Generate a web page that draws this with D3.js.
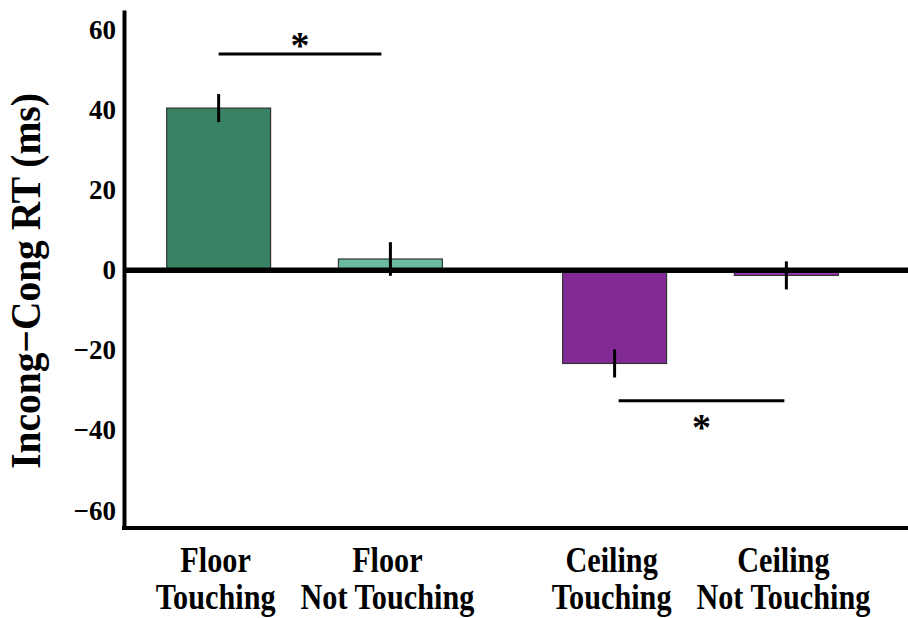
<!DOCTYPE html>
<html>
<head>
<meta charset="utf-8">
<script src="https://cdn.jsdelivr.net/npm/d3@7"></script>
<style>
  body { margin: 0; background: #fff; }
  text { font-family: 'Liberation Serif', 'Times New Roman', serif; font-weight: bold; }
</style>
</head>
<body>
<div id="chart"></div>
<script>
// data
const groups = ['Floor', 'Ceiling'];
const conditions = ['Touching', 'Not Touching'];
const labels = ['Floor Touching', 'Floor Not Touching', 'Ceiling Touching', 'Ceiling Not Touching'];
const means = [40.5, 2.8, -23.3, -1.3];
const errors = [3.5, 4.2, 3.5, 3.5];
const yTicks = [60, 40, 20, 0, -20, -40, -60];
const sigFrom = ['Floor Touching', 'Ceiling Touching'];
const sigTo = ['Floor Not Touching', 'Ceiling Not Touching'];
const sigLevel = [54, -32.6];
const sigMark = ['*', '*'];

const colors = ['#3a8264', '#6bbb9d', '#822a96', '#9c35b4'];

const data = labels.map((label, i) => ({
  label,
  group: groups[Math.floor(i / 2)],
  cond: conditions[i % 2],
  mean: means[i],
  err: errors[i],
  color: colors[i]
}));

const width = 908;
const height = 618;
const axisX = 124;

const svg = d3
  .select('#chart')
  .append('svg')
  .attr('width', width)
  .attr('height', height);

const yScale = d3.scaleLinear().domain([-64.4, 65]).range([528, 10]);

const x0 = d3
  .scaleBand()
  .domain(groups)
  .range([149.5, 855.5])
  .paddingInner(0.217)
  .paddingOuter(0);

const x1 = d3
  .scaleBand()
  .domain(conditions)
  .range([0, x0.bandwidth()])
  .paddingInner(0.395)
  .paddingOuter(0.1);

const barX = (d) => x0(d.group) + x1(d.cond);
const barCenter = (d) => barX(d) + x1.bandwidth() / 2;
const byLabel = (l) => data.find((d) => d.label === l);

// bars
svg
  .selectAll('.bar')
  .data(data)
  .enter()
  .append('rect')
  .attr('class', 'bar')
  .attr('x', barX)
  .attr('y', (d) => Math.min(yScale(d.mean), yScale(0)))
  .attr('width', x1.bandwidth())
  .attr('height', (d) => Math.abs(yScale(d.mean) - yScale(0)))
  .style('fill', (d) => d.color)
  .style('stroke', '#333')
  .style('stroke-width', 1.2);

// error bars
svg
  .selectAll('.err')
  .data(data)
  .enter()
  .append('line')
  .attr('class', 'err')
  .attr('x1', barCenter)
  .attr('x2', barCenter)
  .attr('y1', (d) => yScale(d.mean + d.err))
  .attr('y2', (d) => yScale(d.mean - d.err))
  .style('stroke', 'black')
  .style('stroke-width', 3);

// zero line and bottom line
svg
  .append('line')
  .attr('x1', axisX)
  .attr('x2', width)
  .attr('y1', yScale(0))
  .attr('y2', yScale(0))
  .style('stroke', 'black')
  .style('stroke-width', 5.5);

svg
  .append('line')
  .attr('x1', axisX - 2)
  .attr('x2', width)
  .attr('y1', yScale.range()[0])
  .attr('y2', yScale.range()[0])
  .style('stroke', 'black')
  .style('stroke-width', 4);

// y axis
const yAxis = svg
  .append('g')
  .attr('class', 'y-axis')
  .attr('transform', `translate(${axisX},0)`)
  .call(d3.axisLeft(yScale).tickValues(yTicks).tickSize(0).tickSizeOuter(0).tickPadding(8).tickFormat(d3.format('d')));

yAxis.select('.domain').style('stroke', 'black').style('stroke-width', 4);
yAxis
  .selectAll('.tick text')
  .style('font-size', '27px')
  .style('font-family', "'Liberation Serif', serif")
  .style('font-weight', 'bold')
  .style('fill', 'black');

// y label
svg
  .append('text')
  .attr('transform', 'rotate(-90) scale(0.94,1)')
  .attr('x', -281 / 0.94)
  .attr('y', 40)
  .style('text-anchor', 'middle')
  .style('font-size', '42px')
  .text('Incong\u2212Cong RT (ms)');

// category labels
const catLabels = svg
  .selectAll('.cat')
  .data(data)
  .enter()
  .append('g')
  .attr('class', 'cat')
  .attr('transform', (d) => `translate(${barCenter(d) - 3},0) scale(0.84,1)`);

catLabels
  .append('text')
  .attr('y', 572)
  .style('text-anchor', 'middle')
  .style('font-size', '36px')
  .text((d) => d.group);

catLabels
  .append('text')
  .attr('y', 609)
  .style('text-anchor', 'middle')
  .style('font-size', '36px')
  .text((d) => d.cond);

// significance brackets
sigFrom.forEach((from, i) => {
  const a = barCenter(byLabel(from)) + (i === 0 ? 0 : 4);
  const b = barCenter(byLabel(sigTo[i])) - (i === 0 ? 9 : 2);
  const yy = yScale(sigLevel[i]);
  svg
    .append('line')
    .attr('x1', a)
    .attr('x2', b)
    .attr('y1', yy)
    .attr('y2', yy)
    .style('stroke', 'black')
    .style('stroke-width', 3);
  svg
    .append('text')
    .attr('x', (a + b) / 2)
    .attr('y', sigLevel[i] > 0 ? yy + 4 : yy + 39)
    .style('text-anchor', 'middle')
    .style('font-size', '38px')
    .text(sigMark[i]);
});
</script>
</body>
</html>
